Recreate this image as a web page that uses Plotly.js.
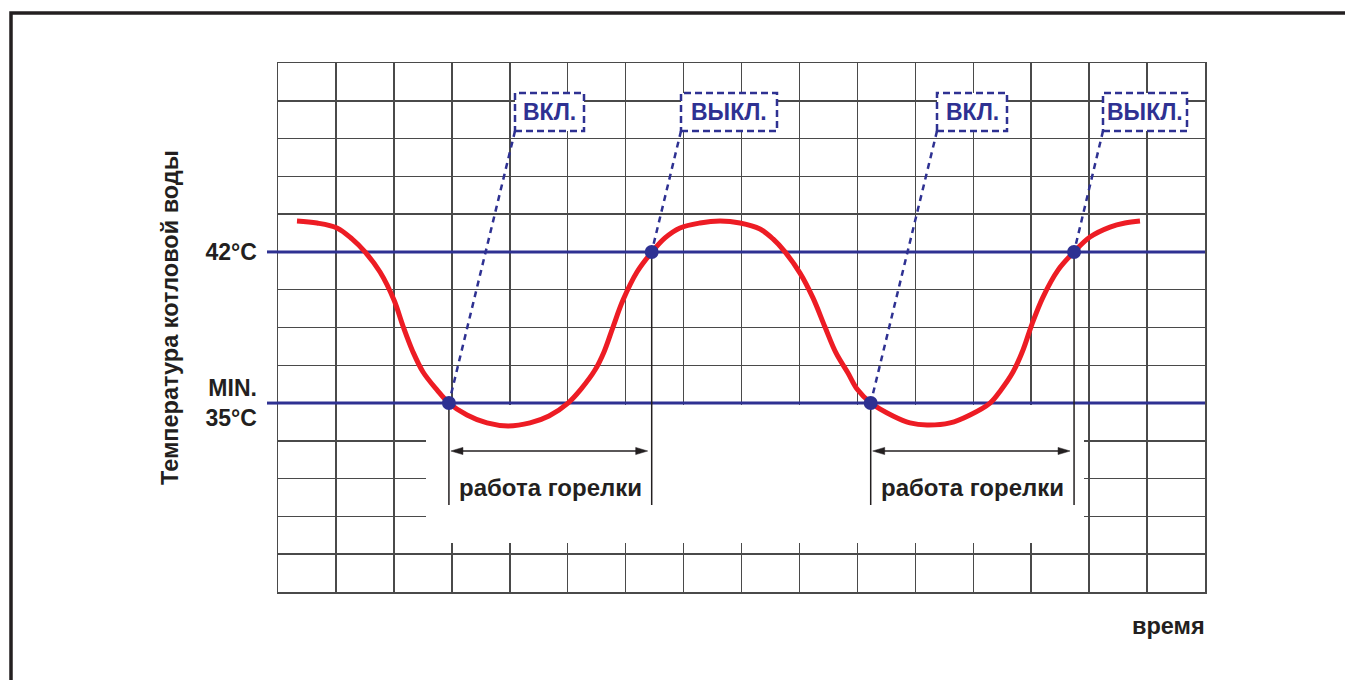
<!DOCTYPE html>
<html><head><meta charset="utf-8">
<script src="https://cdn.plot.ly/plotly-3.0.1.min.js"></script>
<style>html,body{margin:0;padding:0;background:#fff}#chart{width:1345px;height:680px}</style>
</head><body><div id="chart"></div>
<script>
// ---------- data ----------
const time = [0.328, 0.673, 1.018, 1.277, 1.502, 1.761, 2.002, 2.157, 2.330, 2.503, 2.744, 2.951, 3.262, 3.607, 3.970,
  4.350, 4.677, 5.005, 5.230, 5.471, 5.627, 5.782, 5.955, 6.196, 6.455, 6.680, 6.939, 7.284, 7.629,
  7.974, 8.319, 8.544, 8.751, 9.010, 9.234, 9.441, 9.631, 9.838, 9.994, 10.235, 10.615, 10.908, 11.202,
  11.599, 11.944, 12.289, 12.479, 12.686, 12.859, 13.014, 13.204, 13.463, 13.739, 14.015, 14.360, 14.619, 14.878];
const temperature = [43.43, 43.34, 43.11, 42.60, 42.0, 41.07, 39.77, 38.57, 37.37, 36.44, 35.61, 35.0, 34.45, 34.08, 33.94,
  34.08, 34.40, 35.0, 35.65, 36.53, 37.37, 38.52, 39.77, 41.07, 42.0, 42.65, 43.11, 43.34, 43.43,
  43.34, 43.06, 42.60, 42.0, 41.02, 39.87, 38.52, 37.32, 36.39, 35.65, 35.0, 34.40, 34.08, 33.98,
  34.08, 34.45, 35.0, 35.61, 36.44, 37.46, 38.66, 39.91, 41.16, 42.0, 42.69, 43.15, 43.34, 43.43];
const eventTimes = [2.95, 6.45, 10.23, 13.74];
const eventTemps = [35, 42, 35, 42];
const eventLabels = ['ВКЛ.', 'ВЫКЛ.', 'ВКЛ.', 'ВЫКЛ.'];
const thresholds = [42, 35];
const thresholdLabels = ['42°C', 'MIN.<br>35°C'];
const burnerLabel = 'работа горелки';
const yTitle = 'Температура котловой воды';
const xTitle = 'время';

// ---------- layout geometry ----------
const W = 1345, H = 680, ML = 278, MR = 140, MT = 63, MB = 88;
const PW = W - ML - MR, PH = H - MT - MB;
const X0 = 0, X1 = 16, Y0 = 26.25, Y1 = 50.75, YSTEP = 1.75;
const toX = px => X0 + (px - ML) / PW * (X1 - X0);
const toPx = x => ML + (x - X0) / (X1 - X0) * PW;
const toY = py => Y1 - (py - MT) / PH * (Y1 - Y0);
const paperX = px => (px - ML) / PW;
const paperY = py => (H - MB - py) / PH;

const NAVY = '#2e3192', RED = '#ed1c24', INK = '#231f20', GRID = '#4a4a4a';
const FONT = 'Liberation Sans, Arial, Helvetica, sans-serif';

// y tick values: every grid row, labels only at thresholds
const yTickVals = [];
for (let v = Y0; v <= Y1 + 1e-9; v += YSTEP) yTickVals.push(v);
const yTickText = yTickVals.map(v => {
  const i = thresholds.indexOf(v);
  return i >= 0 ? thresholdLabels[i] : '';
});

const shapes = [];
// white gap in the grid under the burner-time annotations
shapes.push({type: 'rect', layer: 'between', xref: 'x', yref: 'y',
  x0: toX(426), x1: toX(1084), y0: toY(543), y1: toY(405),
  fillcolor: '#ffffff', line: {width: 0}});
// threshold lines
thresholds.forEach(t => {
  shapes.push({type: 'line', layer: 'between', xref: 'x', yref: 'y',
    x0: X0, x1: X1, y0: t, y1: t, line: {color: NAVY, width: 3}});
  shapes.push({type: 'line', layer: 'above', xref: 'paper', yref: 'y',
    x0: paperX(267), x1: 0, y0: t, y1: t, line: {color: NAVY, width: 3}});
});
// drop lines from switching points
const dropBottom = toY(505);
eventTimes.forEach((t, i) => {
  shapes.push({type: 'line', layer: 'between', xref: 'x', yref: 'y',
    x0: t, x1: t, y0: eventTemps[i], y1: dropBottom, line: {color: INK, width: 1.5}});
});
// label boxes + dotted leaders
const boxCenters = [549.5, 729, 972, 1145];
const boxWidths = [69, 96, 70, 84];
const boxTop = 93, boxBottom = 131;
eventLabels.forEach((lab, i) => {
  const bx0 = boxCenters[i] - boxWidths[i] / 2, bx1 = boxCenters[i] + boxWidths[i] / 2;
  shapes.push({type: 'line', layer: 'between', xref: 'x', yref: 'y',
    x0: toX(bx0), y0: toY(boxBottom), x1: eventTimes[i], y1: eventTemps[i],
    line: {color: NAVY, width: 2.5, dash: '6px,5px'}});
  shapes.push({type: 'rect', layer: 'between', xref: 'x', yref: 'y',
    x0: toX(bx0), x1: toX(bx1), y0: toY(boxBottom), y1: toY(boxTop),
    fillcolor: '#ffffff', line: {color: NAVY, width: 2.5, dash: '7px,4px'}});
});
// double arrows for burner operation
const annotations = [];
const arrowY = toY(451), headL = toX(12) - toX(0), headH = toY(0) - toY(3.6);
for (let i = 0; i < eventTimes.length; i += 2) {
  const a = toX(toPx(eventTimes[i]) + 2), b = toX(toPx(eventTimes[i + 1]) - 4);
  shapes.push({type: 'line', layer: 'between', xref: 'x', yref: 'y',
    x0: a + headL * 0.5, x1: b - headL * 0.5, y0: arrowY, y1: arrowY, line: {color: INK, width: 1.6}});
  shapes.push({type: 'path', layer: 'between', xref: 'x', yref: 'y',
    path: `M${a},${arrowY} L${a + headL},${arrowY + headH} L${a + headL},${arrowY - headH} Z`,
    fillcolor: INK, line: {color: INK, width: 0.5}});
  shapes.push({type: 'path', layer: 'between', xref: 'x', yref: 'y',
    path: `M${b},${arrowY} L${b - headL},${arrowY + headH} L${b - headL},${arrowY - headH} Z`,
    fillcolor: INK, line: {color: INK, width: 0.5}});
  annotations.push({xref: 'x', yref: 'y', x: (eventTimes[i] + eventTimes[i + 1]) / 2, y: toY(487),
    text: burnerLabel, showarrow: false, xanchor: 'center', yanchor: 'middle',
    font: {family: FONT, size: 24, color: INK, weight: 700}});
}
// outer frame (top and left edges)
shapes.push({type: 'path', layer: 'above', xref: 'paper', yref: 'paper',
  path: `M${paperX(11)},${paperY(700)} L${paperX(11)},${paperY(13)} L${paperX(1360)},${paperY(13)}`,
  line: {color: INK, width: 3.5}});

// box labels
eventLabels.forEach((lab, i) => {
  annotations.push({xref: 'x', yref: 'y', x: toX(boxCenters[i]), y: toY((boxTop + boxBottom) / 2),
    text: lab, showarrow: false, xanchor: 'center', yanchor: 'middle',
    font: {family: FONT, size: 23, color: NAVY, weight: 700}});
});
// x title at right
annotations.push({xref: 'paper', yref: 'paper', x: paperX(1207), y: paperY(626),
  text: xTitle, showarrow: false, xanchor: 'right', yanchor: 'middle',
  font: {family: FONT, size: 23.5, color: INK, weight: 700}});
// y title (rotated), positioned as in the reference
annotations.push({xref: 'paper', yref: 'paper', x: paperX(170), y: paperY(318),
  text: yTitle, showarrow: false, textangle: -90, xanchor: 'center', yanchor: 'middle',
  font: {family: FONT, size: 23.5, color: INK, weight: 700}});

const traces = [
  {x: time, y: temperature, type: 'scatter', mode: 'lines',
   line: {color: RED, width: 5, shape: 'spline', smoothing: 1}, hoverinfo: 'skip'},
  {x: eventTimes, y: eventTemps, type: 'scatter', mode: 'markers',
   marker: {color: NAVY, size: 14}, hoverinfo: 'skip', cliponaxis: false}
];

const layout = {
  width: W, height: H, margin: {l: ML, r: MR, t: MT, b: MB, pad: 0},
  paper_bgcolor: '#ffffff', plot_bgcolor: '#ffffff', showlegend: false,
  font: {family: FONT, color: INK},
  xaxis: {range: [X0, X1], tick0: 0, dtick: 1, showticklabels: false, ticks: '',
    showgrid: true, gridcolor: GRID, gridwidth: 1.5, zeroline: false,
    showline: true, mirror: true, linecolor: GRID, linewidth: 1.5, fixedrange: true},
  yaxis: {range: [Y0, Y1], tickmode: 'array', tickvals: yTickVals, ticktext: yTickText,
    ticks: '', ticklabelstandoff: 15,
    tickfont: {family: FONT, size: 23, color: INK, weight: 700},
    showgrid: true, gridcolor: GRID, gridwidth: 1.5, zeroline: false,
    showline: true, mirror: true, linecolor: GRID, linewidth: 1.5, fixedrange: true},
  shapes: shapes, annotations: annotations
};

Plotly.newPlot('chart', traces, layout, {staticPlot: true, displayModeBar: false});
</script>
</body></html>
